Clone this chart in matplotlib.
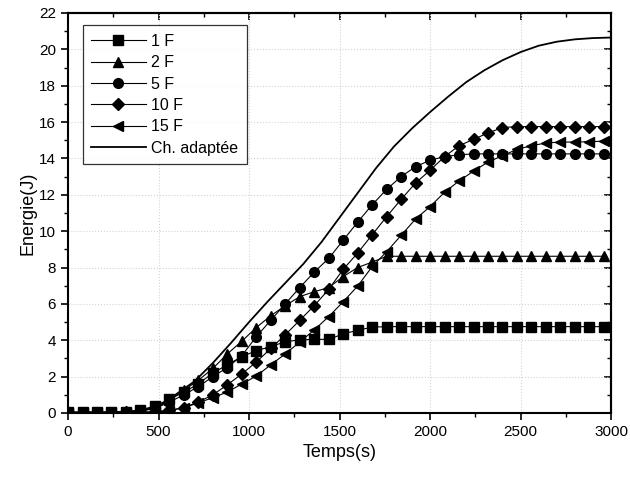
import numpy as np
import matplotlib
matplotlib.use("Agg")
import matplotlib.pyplot as plt

# sample times of the marker series (s)
t = np.arange(0, 3000, 80)

e_1f = [0.05, 0.05, 0.05, 0.05, 0.06, 0.15, 0.4, 0.75, 1.15, 1.6,
        2.2, 2.65, 3.1, 3.43, 3.65, 3.92, 4.02, 4.05, 4.05, 4.35,
        4.55, 4.72] + [4.75] * 16
e_2f = [0.05, 0.05, 0.05, 0.05, 0.06, 0.12, 0.3, 0.7, 1.25, 1.8,
        2.45, 3.25, 3.95, 4.7, 5.35, 5.9, 6.4, 6.67, 6.9, 7.5,
        8.0, 8.3, 8.62] + [8.62] * 15
e_5f = [0.03, 0.03, 0.03, 0.03, 0.05, 0.1, 0.25, 0.6, 1.0, 1.45,
        2.0, 2.5, 3.15, 4.2, 5.1, 6.0, 6.9, 7.75, 8.5, 9.5,
        10.5, 11.45, 12.3, 13.0, 13.55, 13.9, 14.1, 14.2] + [14.25] * 10
e_10f = [0.02, 0.02, 0.02, 0.02, 0.03, 0.04, 0.08, 0.15, 0.3, 0.6,
         1.0, 1.55, 2.15, 2.8, 3.55, 4.3, 5.1, 5.9, 6.8, 7.9,
         8.8, 9.8, 10.8, 11.75, 12.65, 13.35, 14.1, 14.7, 15.05, 15.4,
         15.7] + [15.75] * 7
e_15f = [0.02, 0.02, 0.02, 0.02, 0.02, 0.03, 0.05, 0.12, 0.3, 0.55,
         0.85, 1.15, 1.6, 2.03, 2.65, 3.25, 3.9, 4.57, 5.3, 6.12,
         6.98, 8.05, 8.87, 9.77, 10.67, 11.35, 12.14, 12.76, 13.3, 13.8,
         14.15, 14.5, 14.7, 14.85, 14.9, 14.9, 14.92, 14.95]

# matched load curve (Ch. adaptée)
t_ch = [0, 200, 400, 500, 600, 700, 800, 900, 1000, 1100, 1200, 1300, 1400,
        1500, 1600, 1700, 1800, 1900, 2000, 2100, 2200, 2300, 2400, 2500,
        2600, 2700, 2800, 2900, 3000]
e_ch = [0, 0.02, 0.12, 0.35, 1.05, 1.75, 2.75, 3.85, 5.0, 6.1, 7.15, 8.2, 9.4,
        10.75, 12.1, 13.45, 14.65, 15.65, 16.55, 17.4, 18.2, 18.85, 19.4,
        19.85, 20.2, 20.42, 20.55, 20.62, 20.65]

series = [("1 F", e_1f, "s"), ("2 F", e_2f, "^"), ("5 F", e_5f, "o"),
          ("10 F", e_10f, "D"), ("15 F", e_15f, "<")]

plt.rcParams["font.family"] = ["Liberation Sans", "DejaVu Sans"]

fig = plt.figure(figsize=(6.3, 4.79), dpi=100)
ax = fig.add_axes([0.108, 0.1378, 0.862, 0.8351])

for name, vals, mk in series:
    ms = 6.3 if mk == "D" else 7.0
    ax.plot(t, vals, color="black", lw=0.8, marker=mk, ms=ms,
            mfc="black", mec="black", label=name)
ax.plot(t_ch, e_ch, color="black", lw=1.3, solid_joinstyle="round",
        label="Ch. adaptée")

ax.set_xlim(0, 3000)
ax.set_ylim(0, 22)
ax.set_xticks(np.arange(0, 3001, 500))
ax.set_yticks(np.arange(0, 23, 2))
ax.set_xticks(np.arange(250, 3000, 500), minor=True)
ax.set_yticks(np.arange(1, 22, 2), minor=True)
ax.grid(True, which="major", color="#d4d4d4", lw=0.8, ls=":")
ax.set_axisbelow(True)

ax.tick_params(which="major", direction="out", length=5, width=1.2,
               labelsize=11, colors="black")
ax.tick_params(which="minor", direction="out", length=3, width=1.0)

# mirrored ticks on top and right, pointing inward
top = ax.secondary_xaxis("top")
top.set_xticks(np.arange(0, 3001, 500))
top.set_xticks(np.arange(250, 3000, 500), minor=True)
top.tick_params(which="major", direction="in", length=5, width=1.2, labeltop=False)
top.tick_params(which="minor", direction="in", length=3, width=1.0)
right = ax.secondary_yaxis("right")
right.set_yticks(np.arange(0, 23, 2))
right.set_yticks(np.arange(1, 22, 2), minor=True)
right.tick_params(which="major", direction="in", length=5, width=1.2, labelright=False)
right.tick_params(which="minor", direction="in", length=3, width=1.0)

for sp in ax.spines.values():
    sp.set_linewidth(1.5)
for sp in list(top.spines.values()) + list(right.spines.values()):
    sp.set_linewidth(1.5)

ax.set_xlabel("Temps(s)", fontsize=13, labelpad=4)
ax.set_ylabel("Energie(J)", fontsize=13, labelpad=2)

leg = ax.legend(loc="upper left", bbox_to_anchor=(0.012, 0.99), fontsize=11.5,
                handlelength=3.4, frameon=True, fancybox=False,
                borderpad=0.55, labelspacing=0.4, handletextpad=0.35)
leg.get_frame().set_edgecolor("black")
leg.get_frame().set_linewidth(0.9)

fig.savefig("out.png", dpi=100)
